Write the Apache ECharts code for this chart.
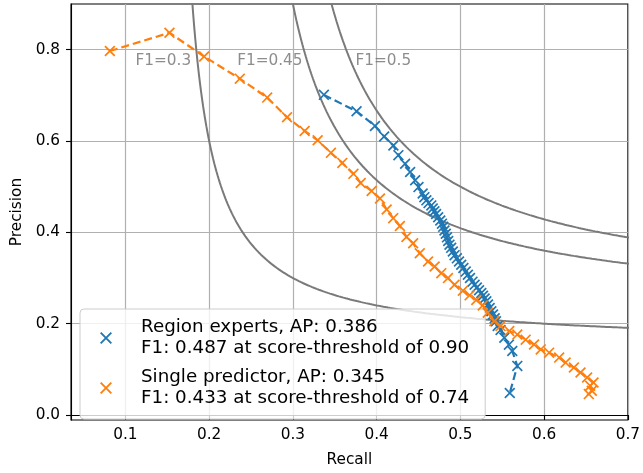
<!DOCTYPE html>
<html>
<head>
<meta charset="utf-8">
<script src="https://cdn.jsdelivr.net/npm/echarts@6/dist/echarts.min.js"></script>
<style>
  html, body { margin: 0; padding: 0; background: #fff; }
  #chart { width: 643px; height: 473px; }
</style>
</head>
<body>
<div id="chart"></div>
<script>
// Precision / recall points for each detector (recall, precision)
const regionExperts = [
  [0.337,0.701],[0.376,0.665],[0.398,0.633],[0.409,0.610],[0.420,0.590],[0.426,0.569],
  [0.434,0.550],[0.440,0.532],[0.446,0.514],[0.450,0.499],[0.455,0.485],
  [0.457,0.477],[0.4594,0.470],[0.462,0.464],[0.4653,0.459],[0.467,0.452],[0.469,0.446],
  [0.471,0.440],[0.4735,0.433],[0.476,0.426],[0.478,0.419],[0.4795,0.412],[0.481,0.404],
  [0.4826,0.397],[0.484,0.389],[0.4855,0.381],[0.487,0.373],[0.489,0.366],[0.491,0.358],
  [0.4931,0.350],[0.4958,0.343],[0.4984,0.336],[0.501,0.329],[0.5036,0.322],[0.5064,0.314],
  [0.509,0.307],[0.5115,0.300],[0.5145,0.292],[0.517,0.285],[0.5197,0.279],[0.5223,0.273],
  [0.525,0.267],[0.527,0.261],[0.529,0.255],[0.531,0.249],[0.533,0.242],[0.535,0.234],
  [0.537,0.227],[0.539,0.220],[0.541,0.212],[0.5425,0.205],[0.5446,0.195],[0.548,0.186],
  [0.5525,0.169],[0.558,0.154],[0.562,0.140],[0.568,0.1075],[0.559,0.048]
];
const singlePredictor = [
  [0.0814,0.797],[0.1526,0.837],[0.194,0.785],[0.2366,0.7365],[0.2693,0.695],[0.293,0.652],
  [0.314,0.622],[0.3296,0.6015],[0.3454,0.574],[0.359,0.552],[0.3723,0.528],[0.381,0.508],
  [0.394,0.4905],[0.404,0.474],[0.412,0.450],[0.4198,0.431],[0.4278,0.414],[0.4356,0.390],
  [0.4436,0.376],[0.4515,0.354],[0.4614,0.336],[0.4693,0.325],[0.4772,0.3106],[0.4852,0.2997],
  [0.493,0.285],[0.503,0.272],[0.511,0.262],[0.519,0.252],[0.5267,0.240],[0.5327,0.224],
  [0.5406,0.2054],[0.548,0.1946],[0.5584,0.1837],[0.568,0.176],[0.578,0.165],[0.588,0.1545],
  [0.596,0.1436],[0.606,0.1365],[0.618,0.1256],[0.6257,0.1147],[0.6356,0.1038],[0.6435,0.093],
  [0.6514,0.082],[0.659,0.071],[0.655,0.064],[0.657,0.053],[0.6534,0.0457]
];
const seriesNames = ['Region experts', 'Single predictor'];
const legendTexts = [
  'Region experts, AP: 0.386\nF1: 0.487 at score-threshold of 0.90',
  'Single predictor, AP: 0.345\nF1: 0.433 at score-threshold of 0.74'
];
// Iso-F1 reference levels and where their captions sit
const f1Levels = [0.3, 0.45, 0.5];
const f1Captions = ['F1=0.3', 'F1=0.45', 'F1=0.5'];
const f1CaptionPos = [[0.112, 0.775], [0.2334, 0.775], [0.3747, 0.775]];
// Axis ticks
const xTicks = [0.1, 0.2, 0.3, 0.4, 0.5, 0.6, 0.7];
const yTicks = [0.0, 0.2, 0.4, 0.6, 0.8];
const xRange = [0.035, 0.7];
const yRange = [-0.011, 0.9];

const BLUE = '#1f77b4', ORANGE = '#ff7f0e', GREY = '#7a7a7a';
const CROSS = 'path://M0,1.1L1.1,0L10,8.9L8.9,10Z M8.9,0L10,1.1L1.1,10L0,8.9Z';
const FONT = 'DejaVu Sans';

// iso-F1 contour: precision = f*r / (2r - f)
function isoCurve(f) {
  const pts = [];
  const rStart = f * 0.95 / (2 * 0.95 - f);
  for (let i = 0; i <= 400; i++) {
    const r = rStart + (xRange[1] + 0.01 - rStart) * i / 400;
    pts.push([r, f * r / (2 * r - f)]);
  }
  return pts;
}

const series = [];
f1Levels.forEach(f => {
  series.push({
    type: 'line', data: isoCurve(f), showSymbol: false, silent: true,
    lineStyle: { color: GREY, width: 2 }, clip: true, z: 2
  });
});
series.push({
  type: 'scatter', silent: true, symbolSize: 0, z: 2,
  data: f1CaptionPos.map((p, i) => ({ value: p, name: f1Captions[i] })),
  label: {
    show: true, position: 'inside', align: 'left', verticalAlign: 'middle',
    formatter: p => p.name, color: '#707070', fontFamily: FONT, fontSize: 15.3
  }
});
[[regionExperts, BLUE], [singlePredictor, ORANGE]].forEach(([d, c], i) => {
  series.push({
    name: seriesNames[i], type: 'line', data: d, z: 3 + i,
    symbol: CROSS, symbolSize: 11, showSymbol: true, showAllSymbol: true,
    itemStyle: { color: c }, lineStyle: { color: c, width: 2.2, type: [8, 4] }
  });
});

const chart = echarts.init(document.getElementById('chart'), null, { renderer: 'canvas' });
chart.setOption({
  animation: false,
  grid: { left: 71, right: 10, top: 4, bottom: 50, show: true, borderColor: '#000', borderWidth: 1.1, backgroundColor: 'transparent' },
  xAxis: {
    type: 'value', min: xRange[0], max: xRange[1],
    name: 'Recall', nameLocation: 'middle', nameGap: 33,
    nameTextStyle: { color: '#000', fontFamily: FONT, fontSize: 15.3 },
    axisLine: { show: true, lineStyle: { color: '#000', width: 1.1 } },
    axisTick: { show: true, length: 5, customValues: xTicks, lineStyle: { color: '#000', width: 1.1 } },
    axisLabel: { customValues: xTicks, margin: 8, color: '#000', fontFamily: FONT, fontSize: 15.3, formatter: v => v.toFixed(1) },
    splitLine: { show: true, lineStyle: { color: '#b0b0b0', width: 1.2 } }
  },
  yAxis: {
    type: 'value', min: yRange[0], max: yRange[1],
    name: 'Precision', nameLocation: 'middle', nameGap: 43, nameRotate: 90,
    nameTextStyle: { color: '#000', fontFamily: FONT, fontSize: 15.3 },
    axisLine: { show: true, lineStyle: { color: '#000', width: 1.1 } },
    axisTick: { show: true, length: 5, customValues: yTicks, lineStyle: { color: '#000', width: 1.1 } },
    axisLabel: { customValues: yTicks, margin: 11, color: '#000', fontFamily: FONT, fontSize: 15.3, formatter: v => v.toFixed(1) },
    splitLine: { show: true, lineStyle: { color: '#b0b0b0', width: 1.2 } }
  },
  legend: {
    orient: 'vertical', left: 80, top: 309,
    padding: [8, 16, 10, 20], itemGap: 8, itemWidth: 12, itemHeight: 12,
    backgroundColor: 'rgba(255,255,255,0.8)', borderColor: '#cccccc', borderWidth: 1, borderRadius: 4,
    data: seriesNames.map(n => ({ name: n, icon: CROSS })),
    formatter: n => legendTexts[seriesNames.indexOf(n)],
    textStyle: { color: '#000', fontFamily: FONT, fontSize: 18.3, lineHeight: 21, padding: [0, 0, 0, 24] },
    selectedMode: false
  },
  series: series
});
</script>
</body>
</html>
